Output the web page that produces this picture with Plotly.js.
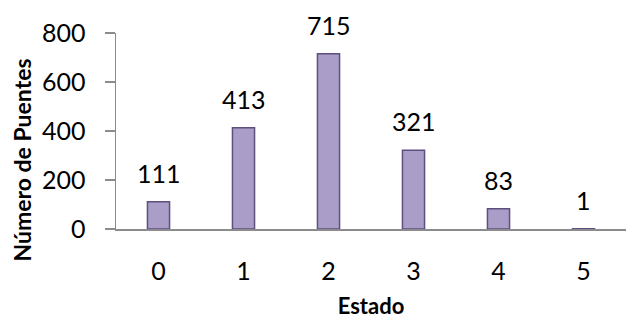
<!DOCTYPE html>
<html>
<head>
<meta charset="utf-8">
<script src="https://cdn.plot.ly/plotly-3.0.1.min.js"></script>
<style>html,body{margin:0;padding:0;background:#fff;}#chart{width:626px;height:325px;}</style>
</head>
<body>
<div id="chart"></div>
<script>
// Bridge counts by condition state
const estados = ['0', '1', '2', '3', '4', '5'];
const puentes = [111, 413, 715, 321, 83, 1];
const yTicks = [0, 200, 400, 600, 800];

const trace = {
  type: 'bar',
  x: estados,
  y: puentes,
  marker: {color: '#aa9dc8', line: {color: '#5e4f7e', width: 1.5}},
  hoverinfo: 'skip'
};

// value labels above each bar
const valueLabels = estados.map((e, i) => ({
  x: e, y: puentes[i], xref: 'x', yref: 'y',
  text: String(puentes[i]),
  showarrow: false, yanchor: 'bottom', yshift: 12,
  font: {family: 'Lato, sans-serif', size: 25, color: '#000'}
}));

const yTitle = {
  xref: 'paper', yref: 'paper', x: -0.184, y: 0.35,
  text: 'Número de Puentes', textangle: -90, showarrow: false,
  xanchor: 'center', yanchor: 'middle',
  font: {family: 'Lato, sans-serif', size: 23, weight: 'bold', color: '#000'}
};

const layout = {
  width: 626, height: 325,
  margin: {l: 116, r: 0, t: 33, b: 96},
  paper_bgcolor: '#fff', plot_bgcolor: '#fff',
  showlegend: false,
  bargap: 0.74,
  font: {family: 'Lato, sans-serif', color: '#000'},
  annotations: valueLabels.concat([yTitle]),
  xaxis: {
    type: 'category',
    showline: true, linecolor: '#8c8c8c', linewidth: 1.5,
    ticks: '', showgrid: false, zeroline: false,
    tickfont: {size: 25},
    ticklabelstandoff: 19,
    title: {text: 'Estado', font: {size: 22, weight: 'bold'}, standoff: 15}
  },
  yaxis: {
    range: [0, 800],
    tickvals: yTicks,
    showline: true, linecolor: '#8c8c8c', linewidth: 1.5,
    ticks: 'outside', ticklen: 10, tickcolor: '#8c8c8c', tickwidth: 1.5,
    showgrid: false, zeroline: false,
    tickfont: {size: 25},
    ticklabelstandoff: 14
  }
};

Plotly.newPlot('chart', [trace], layout, {displayModeBar: false, staticPlot: true});
</script>
</body>
</html>
